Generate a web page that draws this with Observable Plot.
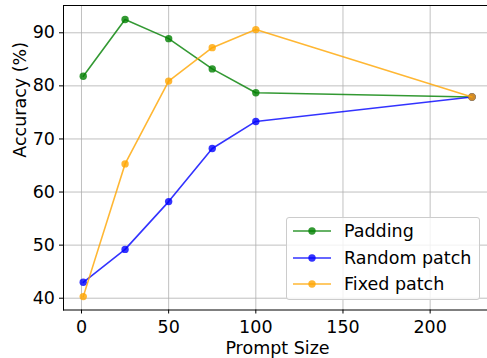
<!DOCTYPE html>
<html>
<head>
<meta charset="utf-8">
<script src="https://cdn.jsdelivr.net/npm/d3@7"></script>
<script src="https://cdn.jsdelivr.net/npm/@observablehq/plot@0.6"></script>
<style>
  html, body { margin: 0; padding: 0; background: #fff; overflow: hidden; }
  #wrap { position: relative; width: 487px; height: 358px; font-family: "DejaVu Sans", sans-serif; }
  #legend { position: absolute; left: 286px; top: 217px; width: 194px; height: 83px;
    box-sizing: border-box; border: 1px solid #cccccc; border-radius: 3px;
    background: rgba(255,255,255,0.8); }
  .item { position: absolute; left: 6px; height: 26px; display: flex; align-items: center; }
  .item span { margin-left: 13px; font-size: 17.5px; color: #000; }
</style>
</head>
<body>
<div id="wrap"></div>
<script>
const promptSizes = [1, 25, 50, 75, 100, 224];
const padding     = [81.8, 92.5, 88.9, 83.2, 78.7, 77.9];
const randomPatch = [43.0, 49.2, 58.2, 68.2, 73.3, 77.9];
const fixedPatch  = [40.3, 65.3, 80.9, 87.2, 90.6, 77.9];
const seriesNames = ["Padding", "Random patch", "Fixed patch"];
const seriesColors = ["#008000", "#0000ff", "#ffa500"];
const xTicks = [0, 50, 100, 150, 200];
const yTicks = [40, 50, 60, 70, 80, 90];

const allSeries = [padding, randomPatch, fixedPatch].map((vals, i) =>
  promptSizes.map((x, j) => ({x, y: vals[j], series: seriesNames[i]})));

const marks = [
  Plot.gridX(xTicks, {stroke: "#b0b0b0", strokeOpacity: 1, strokeWidth: 0.8}),
  Plot.gridY(yTicks, {stroke: "#b0b0b0", strokeOpacity: 1, strokeWidth: 0.8}),
];
allSeries.forEach((data, i) => {
  marks.push(Plot.line(data, {x: "x", y: "y", stroke: seriesColors[i], strokeOpacity: 0.8, strokeWidth: 1.6}));
  marks.push(Plot.dot(data, {x: "x", y: "y", r: 3.7, fill: seriesColors[i], fillOpacity: 0.8, stroke: "none"}));
});
marks.push(
  Plot.frame({anchor: "left", stroke: "#000", strokeWidth: 1}),
  Plot.frame({anchor: "top", stroke: "#000", strokeWidth: 1}),
  Plot.frame({anchor: "bottom", stroke: "#000", strokeWidth: 1}),
  Plot.axisX(xTicks, {tickSize: 4, tickPadding: 6.5, fontSize: 17.5, label: null}),
  Plot.axisY(yTicks, {tickSize: 4, tickPadding: 4.5, fontSize: 17.5, label: null}),
  Plot.text(["Prompt Size"], {text: d => d, frameAnchor: "bottom", lineAnchor: "bottom", dy: 43.5, dx: 2, fontSize: 17.5}),
  Plot.text(["Accuracy (%)"], {text: d => d, frameAnchor: "left", rotate: -90, lineAnchor: "bottom", dx: -38, fontSize: 17.5})
);

const chart = Plot.plot({
  width: 487,
  height: 358,
  marginLeft: 63,
  marginRight: 0,
  marginTop: 5,
  marginBottom: 48.5,
  style: {fontFamily: "DejaVu Sans", fontSize: "17.5px", color: "#000", background: "#fff"},
  x: {domain: [-10.32, 232.9]},
  y: {domain: [37.78, 95.14]},
  marks
});

const wrap = document.getElementById("wrap");
wrap.appendChild(chart);

const legend = document.createElement("div");
legend.id = "legend";
seriesNames.forEach((name, i) => {
  const item = document.createElement("div");
  item.className = "item";
  item.style.top = (0 + i * 26.5) + "px";
  item.innerHTML = `<svg width="38" height="10"><line x1="0" x2="38" y1="5" y2="5" stroke="${seriesColors[i]}" stroke-opacity="0.8" stroke-width="1.6"/><circle cx="19" cy="5" r="3.7" fill="${seriesColors[i]}" fill-opacity="0.8"/></svg><span>${name}</span>`;
  legend.appendChild(item);
});
wrap.appendChild(legend);
</script>
</body>
</html>
